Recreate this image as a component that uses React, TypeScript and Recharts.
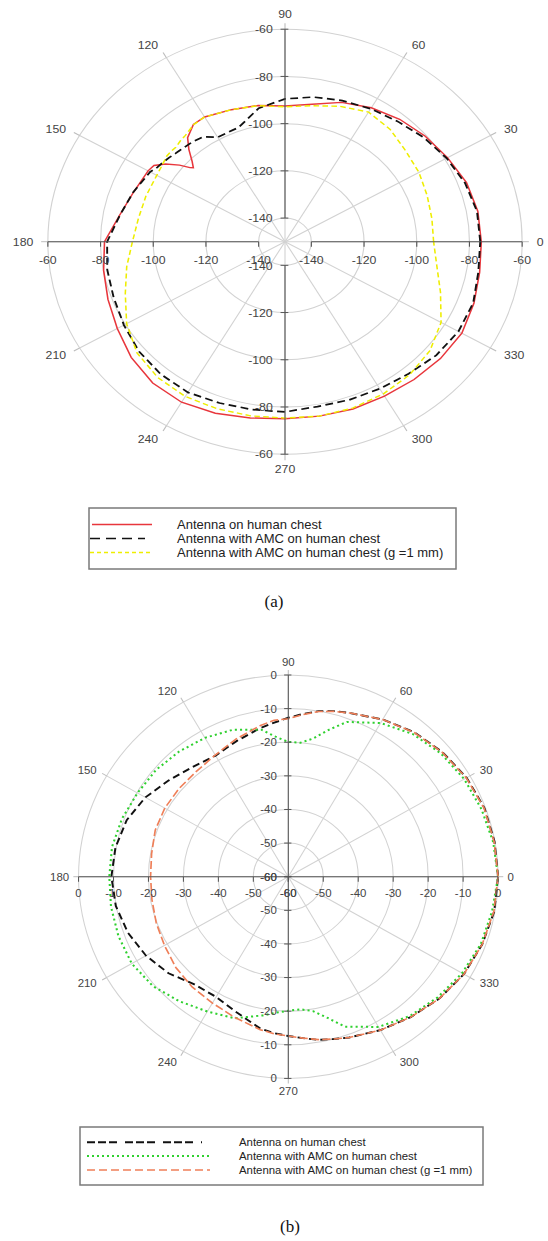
import { RadarChart, Radar, PolarGrid, PolarAngleAxis, PolarRadiusAxis } from 'recharts'

// (a) measured pattern, dB
const anglesA = [0, 10, 20, 30, 40, 50, 60, 70, 80, 90, 100, 110, 120, 125, 130, 133, 136, 138, 139, 141, 144, 147, 150, 160, 170, 180, 190, 200, 210, 220, 230, 240, 250, 260, 270, 280, 290, 300, 310, 320, 330, 340, 350]
const chestA = [-75.5, -75.7, -76.7, -78.8, -80.5, -82.3, -84.5, -87.2, -90.9, -92.5, -91.4, -90.5, -89, -89.4, -92.5, -96.5, -101, -103.2, -102.2, -98.5, -94, -90.7, -90, -88.8, -86.2, -81.5, -80.1, -78.5, -76.5, -73.8, -71.9, -71.5, -72.7, -74.2, -75, -75, -74.6, -74.5, -73.8, -73, -72.5, -73.7, -75]
const amcA = [-75.9, -76, -77.3, -79.2, -81.3, -83.5, -85, -86.4, -87.8, -89.5, -92.6, -98.5, -98.9, -95.8, -95, -94.8, -94.4, -94.1, -93.9, -93.4, -92.8, -92.2, -90.9, -88.7, -86.3, -82.5, -81.5, -80.8, -79.4, -77.7, -76.7, -76.3, -77.3, -77.8, -77.9, -79.1, -78.7, -78.1, -77, -75.1, -74, -74, -75.5]
const amcGapA = [-93.6, -93.4, -92.6, -91.3, -90.2, -87.9, -86.6, -89, -91.5, -92.9, -91.5, -90.5, -89, -89.5, -91.2, -91.7, -92.4, -92.3, -92.3, -92.3, -93, -93.5, -93.8, -93.8, -93.5, -92.1, -89, -85.5, -80.6, -76.7, -74.9, -74.3, -74.7, -75.1, -75.3, -75, -75, -75.5, -76.4, -78.2, -81.6, -87.2, -91.5]

// (b) normalised pattern, dB
const anglesB = [0, 10, 20, 30, 40, 50, 60, 70, 75, 80, 85, 90, 95, 100, 110, 120, 130, 140, 150, 160, 170, 180, 190, 200, 210, 220, 230, 240, 250, 260, 265, 270, 275, 280, 285, 290, 300, 310, 320, 330, 340, 350]
const chestB = [0, -0.1, -0.3, -1.1, -2.4, -3.9, -6, -8.2, -9, -10, -11.4, -12.7, -14, -15, -17, -18.4, -17.4, -15.4, -12.8, -10.8, -9.8, -9.4, -9.9, -11.2, -13, -15.3, -18.2, -18.7, -17, -14.1, -13.3, -12.6, -11.8, -10.7, -10, -9.1, -7.3, -5.5, -3.6, -2, -1, -0.2]
const amcB = [0, -0.5, -1.2, -1.9, -3, -4.6, -7.2, -11, -14.7, -18.2, -20, -19.9, -18.2, -15.6, -13.5, -12.3, -11.4, -10.6, -10.2, -9.4, -8.8, -8.8, -8.5, -8.3, -8.3, -9.4, -11.6, -13.7, -15.2, -18.1, -19.4, -20.1, -20.4, -19.4, -16.5, -12.5, -8.4, -5.9, -4.2, -2.6, -1.4, -0.8]
const amcGapB = [0, -0.2, -0.4, -1.2, -2.5, -4, -6, -8.2, -9.1, -10.1, -11.6, -13, -13.3, -14.3, -16.4, -18.2, -19.1, -19.2, -19.2, -19.5, -20.3, -20.6, -20.4, -19.8, -19.1, -18, -17.2, -16.6, -15.4, -13.8, -13.1, -12.6, -11.8, -10.8, -10, -9.1, -7.3, -5.5, -3.6, -2, -1, -0.3]

const angleTicks = [0, 30, 60, 90, 120, 150, 180, 210, 240, 270, 300, 330]
const radiusTicksA = [-140, -120, -100, -80, -60]
const radiusTicksB = [-60, -50, -40, -30, -20, -10, 0]
const seriesNames = [
  'Antenna on human chest',
  'Antenna with AMC on human chest',
  'Antenna with AMC on human chest (g =1 mm)',
]

const FONT = '"Liberation Sans", Arial, sans-serif'
const TEXT = '#444'
const AXIS = '#555'
const GRID = '#d2d2d2'

interface SeriesStyle {
  key: string
  name: string
  color: string
  width: number
  dash?: string
  legendDash?: string
  legendX1: number
  legendX2: number
}

const seriesA: SeriesStyle[] = [
  { key: 's1', name: seriesNames[0], color: '#e8363c', width: 1.4, legendX1: 3, legendX2: 63 },
  { key: 's2', name: seriesNames[1], color: '#111111', width: 1.7, dash: '7 4', legendDash: '10 6', legendX1: 1, legendX2: 56 },
  { key: 's3', name: seriesNames[2], color: '#eeee00', width: 1.4, dash: '5 3', legendDash: '4 3', legendX1: 1, legendX2: 64 },
]

const seriesB: SeriesStyle[] = [
  { key: 's1', name: seriesNames[0], color: '#111111', width: 1.9, dash: '7 4', legendDash: '8 3 8 3 8 8', legendX1: 7, legendX2: 122 },
  { key: 's2', name: seriesNames[1], color: '#2fd02f', width: 2, dash: '2 3', legendDash: '2 3', legendX1: 7, legendX2: 129 },
  { key: 's3', name: seriesNames[2], color: '#ef7f58', width: 1.6, dash: '8 3', legendDash: '8 4', legendX1: 7, legendX2: 130 },
]

function buildRows(angles: number[], a: number[], b: number[], c: number[]) {
  return angles.map((angle, i) => ({ angle, s1: a[i], s2: b[i], s3: c[i] }))
}

const dataA = buildRows(anglesA, chestA, amcA, amcGapA)
const dataB = buildRows(anglesB, chestB, amcB, amcGapB)

function angleTick(gap: number, gapV: number) {
  return (props: any) => {
    const { x, y, payload } = props
    const rad = (payload.value * Math.PI) / 180
    const cos = Math.cos(rad)
    const sin = Math.sin(rad)
    const d = gap + Math.abs(sin) * gapV
    const anchor = Math.abs(cos) < 0.01 ? 'middle' : cos > 0 ? 'start' : 'end'
    return (
      <text
        x={x + cos * d}
        y={y - sin * d}
        textAnchor={anchor}
        dominantBaseline="central"
        fontSize={11}
        fontFamily={FONT}
        fill={TEXT}
      >
        {payload.value}
      </text>
    )
  }
}

function radiusTick(axisAngle: number, labelDy: number) {
  return (props: any) => {
    const { x, y, payload } = props
    if (axisAngle === 90 || axisAngle === 270) {
      return (
        <g>
          <line x1={x - 4} x2={x + 3} y1={y} y2={y} stroke={AXIS} />
          <text x={x - 11} y={y} textAnchor="end" dominantBaseline="central" fontSize={11} fontFamily={FONT} fill={TEXT}>
            {payload.value}
          </text>
        </g>
      )
    }
    return (
      <g>
        <line x1={x} x2={x} y1={y} y2={y + 5} stroke={AXIS} />
        <text x={x} y={y + labelDy} textAnchor="middle" dominantBaseline="central" fontSize={11} fontFamily={FONT} fill={TEXT}>
          {payload.value}
        </text>
      </g>
    )
  }
}

interface PolarPanelProps {
  data: Record<string, number>[]
  series: SeriesStyle[]
  domain: [number, number]
  radiusTicks: number[]
  top: number
  height: number
  cx: number
  cy: number
  radius: number
  stretch: number
  tickSize: number
  labelGap: number
  labelGapV: number
  labelDy: number
}

function PolarPanel(props: PolarPanelProps) {
  return (
    <div
      style={{
        position: 'absolute',
        left: 0,
        top: props.top,
        width: 548,
        height: props.height,
        transform: `scaleX(${props.stretch})`,
        transformOrigin: `${props.cx}px 0px`,
      }}
    >
      <RadarChart
        width={548}
        height={props.height}
        cx={props.cx}
        cy={props.cy}
        outerRadius={props.radius}
        startAngle={0}
        endAngle={360}
        data={props.data}
        margin={{ top: 0, right: 0, bottom: 0, left: 0 }}
      >
        <PolarGrid gridType="circle" stroke={GRID} />
        <PolarAngleAxis
          dataKey="angle"
          type="number"
          domain={[0, 360]}
          ticks={angleTicks}
          tickCount={13}
          axisLine={false}
          tickSize={props.tickSize}
          tickLine={{ stroke: '#bdbdbd' }}
          tick={angleTick(props.labelGap, props.labelGapV)}
        />
        {[90, 0, 180, 270].map((a, i) => (
          <PolarRadiusAxis
            key={a}
            radiusAxisId={i}
            angle={a}
            type="number"
            domain={props.domain}
            ticks={props.radiusTicks}
            tickCount={props.radiusTicks.length}
            allowDataOverflow
            axisLine={{ stroke: AXIS, strokeWidth: 1 }}
            tickLine={false}
            tick={radiusTick(a, props.labelDy)}
          />
        ))}
        {props.series.map(s => (
          <Radar
            key={s.key}
            dataKey={s.key}
            name={s.name}
            radiusAxisId={0}
            stroke={s.color}
            strokeWidth={s.width}
            strokeDasharray={s.dash}
            fill="none"
            fillOpacity={0}
            dot={false}
            isAnimationActive={false}
          />
        ))}
      </RadarChart>
    </div>
  )
}

interface LegendBoxProps {
  series: SeriesStyle[]
  left: number
  top: number
  width: number
  height: number
  rows: number[]
  textX: number
  fontSize: number
}

function LegendBox(props: LegendBoxProps) {
  return (
    <svg
      width={props.width + 2}
      height={props.height + 2}
      style={{ position: 'absolute', left: props.left - 1, top: props.top - 1 }}
    >
      <rect x={1} y={1} width={props.width} height={props.height} fill="#fff" stroke="#7a7a7a" strokeWidth={1.5} />
      {props.series.map((s, i) => (
        <g key={s.key}>
          <line
            x1={s.legendX1 + 1}
            x2={s.legendX2 + 1}
            y1={props.rows[i] + 1}
            y2={props.rows[i] + 1}
            stroke={s.color}
            strokeWidth={s.width}
            strokeDasharray={s.legendDash}
          />
          <text
            x={props.textX + 1}
            y={props.rows[i] + 1}
            dominantBaseline="central"
            fontSize={props.fontSize}
            fontFamily={FONT}
            fill="#222"
          >
            {s.name}
          </text>
        </g>
      ))}
    </svg>
  )
}

const captionStyle = {
  position: 'absolute' as const,
  width: 548,
  left: 0,
  textAlign: 'center' as const,
  fontFamily: '"Liberation Serif", "Times New Roman", serif',
  fontSize: 17,
  color: '#111',
}

export default function App() {
  return (
    <div style={{ position: 'absolute', left: 0, top: 0, width: 548, height: 1241, background: '#fff' }}>
      <PolarPanel
        data={dataA}
        series={seriesA}
        domain={[-150, -60]}
        radiusTicks={radiusTicksA}
        top={0}
        height={480}
        cx={285}
        cy={241.7}
        radius={212.5}
        stretch={1.116}
        tickSize={6}
        labelGap={7}
        labelGapV={2}
        labelDy={18}
      />
      <LegendBox series={seriesA} left={89} top={508} width={367} height={61} rows={[16.5, 30.5, 44.5]} textX={88} fontSize={13} />
      <div style={{ ...captionStyle, top: 592 }}>(a)</div>

      <PolarPanel
        data={dataB}
        series={seriesB}
        domain={[-60, 0]}
        radiusTicks={radiusTicksB}
        top={620}
        height={480}
        cx={288.3}
        cy={256.7}
        radius={201.7}
        stretch={1.04}
        tickSize={5}
        labelGap={4}
        labelGapV={4}
        labelDy={16}
      />
      <LegendBox series={seriesB} left={80} top={1127} width={403} height={58} rows={[15.3, 29, 43]} textX={159} fontSize={11.4} />
      <div style={{ ...captionStyle, top: 1217, marginLeft: 16 }}>(b)</div>
    </div>
  )
}
